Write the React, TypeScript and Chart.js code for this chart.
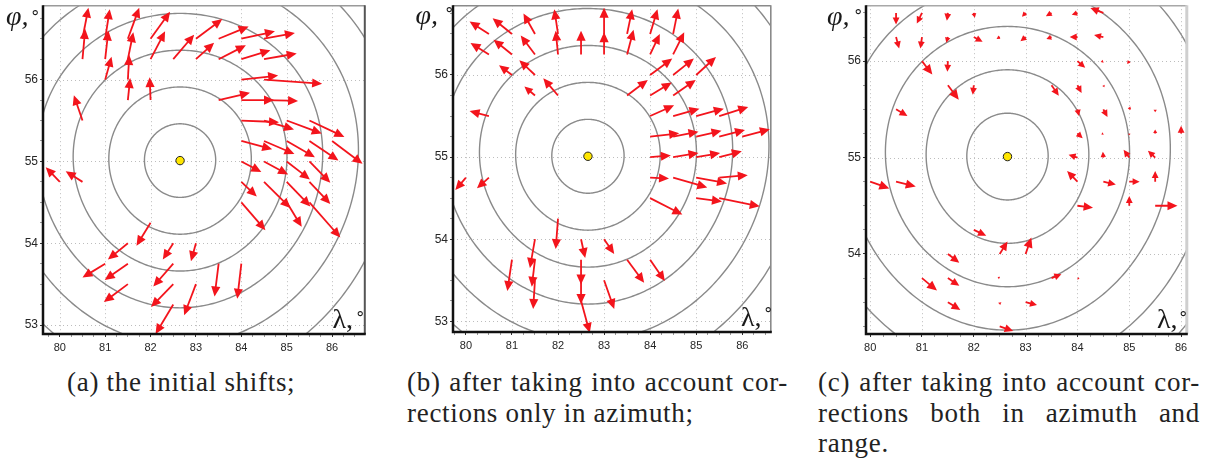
import React, { useEffect, useRef } from 'react';
import { Chart, registerables } from 'chart.js';

Chart.register(...registerables);

// ---------------- data ----------------
const RING_RADII = [0.45, 0.9, 1.35, 1.8, 2.25, 2.7]; // ring radius, degrees of latitude
const CENTER_LON = 82.65;
const CENTER_LAT = 55.01;
const LON_LABELS = [80, 81, 82, 83, 84, 85, 86];
const LAT_LABELS = [53, 54, 55, 56];
const MINOR_STEP = 0.25;

type Arrow = [number, number, number, number]; // lon, lat, dLon, dLat

const ARROWS_A: Arrow[] = [
  [80.5, 56.25, 0.06, 0.37], [80.5, 56.5, 0.13, 0.38],
  [81, 56.0, 0.14, 0.28], [81, 56.25, 0.07, 0.35], [81, 56.5, 0.1, 0.36],
  [81.5, 55.75, 0.05, 0.27], [81.5, 56.0, 0.03, 0.3], [81.5, 56.25, 0.12, 0.33], [81.5, 56.5, 0.25, 0.38],
  [82, 55.75, -0.02, 0.28], [82, 56.25, 0.32, 0.34], [82, 56.5, 0.43, 0.33],
  [82.5, 56.25, 0.46, 0.3],
  [83, 56.25, 0.4, 0.2], [83, 56.5, 0.58, 0.24],
  [83.5, 56.25, 0.6, 0.17], [83.5, 56.5, 0.66, 0.15], [83.5, 55.75, 0.69, 0.09],
  [84, 56.5, 0.74, 0.09], [84, 56.25, 0.64, 0.11], [84, 56.0, 0.81, 0.05], [84, 55.75, 0.72, 0.0],
  [84, 55.5, 0.83, -0.02], [84, 55.25, 0.68, -0.1], [84, 55.0, 0.44, -0.13], [84, 54.75, 0.34, -0.18],
  [84, 54.5, 0.53, -0.34],
  [84.5, 56.5, 0.68, 0.07], [84.5, 56.25, 0.72, 0.07], [84.5, 56.0, 1.28, -0.05], [84.5, 55.75, 0.75, -0.01],
  [84.5, 55.5, 0.66, -0.11], [84.5, 55.25, 0.67, -0.16], [84.5, 55.0, 0.53, -0.16], [84.5, 54.75, 0.58, -0.32],
  [85, 55.5, 0.77, -0.16], [85, 55.25, 0.62, -0.2], [85, 55.0, 0.51, -0.22], [85, 54.75, 0.52, -0.3],
  [85, 54.5, 0.33, -0.3],
  [85.5, 55.5, 0.77, -0.2], [85.5, 55.25, 0.64, -0.24], [85.5, 55.0, 0.46, -0.26], [85.5, 54.75, 0.46, -0.27],
  [85.5, 54.5, 0.68, -0.43],
  [86, 55.25, 0.67, -0.28],
  [82, 54.25, -0.31, -0.28], [81.5, 54.0, -0.44, -0.2], [81, 53.75, -0.5, -0.17],
  [81.5, 53.75, -0.51, -0.2], [81.5, 53.5, -0.53, -0.22],
  [82.5, 54.0, -0.23, -0.2], [83, 54.0, -0.11, -0.22],
  [82.5, 53.75, -0.44, -0.28], [82.5, 53.5, -0.49, -0.28], [83, 53.5, -0.26, -0.38],
  [83.5, 53.75, -0.09, -0.4], [84, 53.75, -0.09, -0.43], [82.5, 53.25, -0.39, -0.36],
  [80.5, 55.5, -0.19, 0.31], [80, 54.75, -0.31, 0.18], [80.5, 54.75, -0.37, 0.13],
];

const ARROWS_B: Arrow[] = [
  [80.5, 56.5, -0.42, 0.15], [81, 56.5, -0.42, 0.19], [81.5, 56.5, -0.25, 0.25],
  [80.5, 56.25, -0.4, 0.14], [81, 56.25, -0.4, 0.18], [81.5, 56.25, -0.31, 0.23],
  [81, 56.0, -0.28, 0.12], [81.5, 56.0, -0.34, 0.18],
  [81.5, 55.75, -0.23, 0.11], [82, 55.75, -0.32, 0.21],
  [80.5, 55.5, -0.42, 0.06],
  [80, 54.75, -0.23, -0.15], [80.5, 54.75, -0.26, -0.13],
  [82, 56.25, -0.05, 0.29], [82, 56.5, -0.08, 0.3],
  [82.5, 56.25, 0, 0.29],
  [83, 56.25, 0, 0.27], [83, 56.5, 0, 0.32],
  [83.5, 56.25, 0.14, 0.3], [83.5, 56.5, 0.11, 0.3],
  [84, 56.25, 0.21, 0.25], [84, 56.5, 0.16, 0.3],
  [84.5, 56.25, 0.24, 0.27], [84.5, 56.5, 0.11, 0.31],
  [83.5, 55.75, 0.45, 0.19],
  [84, 56.0, 0.48, 0.2], [84.5, 56.0, 0.45, 0.2], [85, 56.0, 0.43, 0.22],
  [84, 55.75, 0.47, 0.16], [84.5, 55.75, 0.49, 0.19],
  [84, 55.5, 0.52, 0.13], [84.5, 55.5, 0.57, 0.09], [85, 55.5, 0.6, 0.09], [85.5, 55.5, 0.63, 0.11],
  [84, 55.25, 0.63, 0.04], [84.5, 55.25, 0.55, 0.06], [85, 55.25, 0.55, 0.07], [85.5, 55.25, 0.56, 0.08],
  [86, 55.25, 0.6, 0.09],
  [84, 55.0, 0.45, 0.02], [84.5, 55.0, 0.55, 0.05], [85, 55.0, 0.52, 0.05], [85.5, 55.0, 0.49, 0.07],
  [84, 54.75, 0.41, -0.01], [84.5, 54.75, 0.74, -0.12], [85, 54.75, 0.67, -0.07], [85.5, 54.75, 0.62, 0.03],
  [84, 54.5, 0.7, -0.2], [85, 54.5, 0.56, -0.04], [85.5, 54.5, 0.88, -0.1],
  [82, 54.25, -0.05, -0.37],
  [81.5, 54.0, -0.11, -0.35], [81, 53.75, -0.1, -0.38], [81.5, 53.75, -0.07, -0.33], [81.5, 53.5, -0.04, -0.35],
  [82.5, 54.0, 0.09, -0.23], [83, 54.0, 0.22, -0.18],
  [82.5, 53.75, 0, -0.3], [82.5, 53.5, 0, -0.29], [82.5, 53.25, 0.19, -0.39],
  [83, 53.5, 0.22, -0.35], [83.5, 53.75, 0.37, -0.28], [84, 53.75, 0.32, -0.26],
];

const ARROWS_C: Arrow[] = [
  [80.5, 56.5, 0, -0.12], [81, 56.5, -0.1, -0.11], [81.5, 56.5, -0.02, -0.08], [82, 56.5, 0.02, -0.05],
  [83, 56.5, -0.07, -0.04], [83.5, 56.5, -0.11, -0.035], [84, 56.5, -0.11, -0.02], [84.5, 56.5, -0.25, 0.05],
  [80.5, 56.25, 0.06, -0.12], [81, 56.25, -0.03, -0.12], [81.5, 56.25, -0.03, -0.06], [82, 56.25, 0.17, -0.05],
  [82.5, 56.25, -0.06, -0.02], [83, 56.25, -0.1, -0.045], [83.5, 56.25, -0.1, -0.02], [84, 56.25, -0.15, 0.0],
  [84.5, 56.25, -0.18, 0.02],
  [81, 56.0, 0.2, -0.14], [81.5, 56.0, -0.01, -0.11], [84, 56.0, 0.15, -0.07], [84.5, 56.0, -0.05, -0.01],
  [85, 56.0, -0.04, -0.03],
  [81.5, 55.75, 0.21, -0.15], [82, 55.75, -0.02, -0.1], [83.5, 55.75, 0.14, -0.11], [84, 55.75, 0.08, -0.08],
  [84.5, 55.75, 0.02, -0.02],
  [80.5, 55.5, 0.22, -0.07], [84, 55.5, 0.03, -0.07], [84.5, 55.5, 0.08, -0.08], [85, 55.5, 0.02, 0.03],
  [85.5, 55.5, 0.0, -0.03],
  [84, 55.25, 0.1, -0.05], [84.5, 55.25, -0.04, -0.01], [85, 55.25, 0, -0.02], [85.5, 55.25, 0, 0.04],
  [86, 55.25, 0, 0.08],
  [84, 55.0, -0.17, 0.03], [84.5, 55.0, -0.01, 0.06], [85, 55.0, -0.11, 0.08], [85.5, 55.0, -0.14, 0.07],
  [84, 54.75, -0.2, 0.11], [84.5, 54.75, 0.24, -0.03], [85, 54.75, 0.2, 0], [85.5, 54.75, 0, 0.11],
  [84, 54.5, 0.3, -0.02], [85, 54.5, 0, 0.1], [85.5, 54.5, 0.43, 0],
  [80, 54.75, 0.37, -0.07], [80.5, 54.75, 0.38, -0.05],
  [82, 54.25, 0.24, -0.06],
  [82.5, 54.0, 0.15, 0.13], [83, 54.0, 0.11, 0.17], [81.5, 54.0, 0.22, -0.09],
  [81, 53.75, 0.29, -0.13], [81.5, 53.75, 0.22, -0.08], [82.5, 53.75, -0.04, 0.01], [83.5, 53.75, 0.19, 0.04],
  [84, 53.75, 0.04, -0.01],
  [81.5, 53.5, 0.24, -0.08], [82.5, 53.5, 0.01, -0.03], [83, 53.5, 0.22, -0.03],
  [82.5, 53.25, 0.26, -0.05],
];

const CAPTION_A = ['(a) the initial shifts;'];
const CAPTION_B = ['(b) after taking into account cor-', 'rections only in azimuth;'];
const CAPTION_C = ['(c) after taking into account cor-', 'rections both in azimuth and', 'range.'];

// ---------------- layout ----------------
type PanelCfg = {
  id: string;
  arrows: Arrow[];
  xr: [number, number];
  yr: [number, number];
  left: number;
  width: number;
  height: number;
  padTop: number;
  xFont: number;
  yFont: number;
  rightColor: string;
  rightWidth: number;
  topColor: string;
};

const PANELS: PanelCfg[] = [
  { id: 'a', arrows: ARROWS_A, xr: [79.63, 86.72], yr: [52.89, 56.91], left: 0, width: 370, height: 352, padTop: 4, xFont: 11, yFont: 12, rightColor: '#555', rightWidth: 2, topColor: '#9a9a9a' },
  { id: 'b', arrows: ARROWS_B, xr: [79.72, 86.62], yr: [52.87, 56.85], left: 410, width: 366, height: 350, padTop: 2, xFont: 11, yFont: 12, rightColor: '#8a8a8a', rightWidth: 1.6, topColor: '#8a8a8a' },
  { id: 'c', arrows: ARROWS_C, xr: [79.92, 86.11], yr: [53.17, 56.58], left: 823, width: 369, height: 352, padTop: 3, xFont: 11, yFont: 12, rightColor: '#cfcfcf', rightWidth: 3, topColor: '#a8a8a8' },
];

const isLabel = (v: number, labels: number[]) => labels.some((l) => Math.abs(l - v) < 1e-6);

function axisOptions(min: number, max: number, horizontal: boolean, fontSize: number) {
  const labels = horizontal ? LON_LABELS : LAT_LABELS;
  return {
    type: 'linear' as const,
    min,
    max,
    afterBuildTicks: (scale: any) => {
      const t: { value: number }[] = [];
      for (let k = Math.ceil(min / MINOR_STEP); k * MINOR_STEP <= max + 1e-9; k++) {
        t.push({ value: +(k * MINOR_STEP).toFixed(4) });
      }
      scale.ticks = t;
    },
    afterFit: (scale: any) => {
      if (horizontal) scale.height = 18;
      else scale.width = 43;
      scale.paddingTop = 0;
      scale.paddingBottom = 0;
      scale.paddingLeft = 0;
      scale.paddingRight = 0;
    },
    grid: {
      display: true,
      drawOnChartArea: false,
      drawTicks: true,
      tickLength: 3,
      tickWidth: 1,
      tickColor: (c: any) => (c.tick && isLabel(c.tick.value, labels) ? '#333' : '#9a9a9a'),
    },
    border: { display: false },
    ticks: {
      autoSkip: false,
      maxRotation: 0,
      minRotation: 0,
      padding: horizontal ? 4 : 2,
      color: '#262626',
      font: { family: "'Liberation Sans', Arial, sans-serif", size: fontSize },
      callback: (v: any) => (isLabel(Number(v), labels) ? String(Math.round(Number(v))) : ''),
    },
  };
}

function makeDecor(cfg: PanelCfg) {
  return {
    id: 'decor-' + cfg.id,
    beforeDatasetsDraw(chart: any) {
      const { ctx, chartArea: a } = chart;
      const xs = chart.scales.x;
      const ys = chart.scales.y;
      ctx.save();
      ctx.beginPath();
      ctx.rect(a.left, a.top, a.right - a.left, a.bottom - a.top);
      ctx.clip();
      // dotted grid at labelled values
      ctx.strokeStyle = '#bdbdbd';
      ctx.lineWidth = 1;
      ctx.setLineDash([1, 3]);
      for (const v of LON_LABELS) {
        const p = Math.round(xs.getPixelForValue(v)) + 0.5;
        ctx.beginPath();
        ctx.moveTo(p, a.top);
        ctx.lineTo(p, a.bottom);
        ctx.stroke();
      }
      for (const v of LAT_LABELS) {
        const p = Math.round(ys.getPixelForValue(v)) + 0.5;
        ctx.beginPath();
        ctx.moveTo(a.left, p);
        ctx.lineTo(a.right, p);
        ctx.stroke();
      }
      ctx.setLineDash([]);
      // range rings around the radar
      ctx.strokeStyle = '#8a8a8a';
      ctx.lineWidth = 1.4;
      for (const r of RING_RADII) {
        ctx.beginPath();
        for (let i = 0; i <= 360; i++) {
          const t = (i * Math.PI) / 180;
          const lat = CENTER_LAT + r * Math.sin(t);
          const lon = CENTER_LON + (r * Math.cos(t)) / Math.cos((lat * Math.PI) / 180);
          const px = xs.getPixelForValue(lon);
          const py = ys.getPixelForValue(lat);
          if (i === 0) ctx.moveTo(px, py);
          else ctx.lineTo(px, py);
        }
        ctx.stroke();
      }
      ctx.restore();
    },
    afterDatasetsDraw(chart: any) {
      const { ctx, chartArea: a } = chart;
      const xs = chart.scales.x;
      const ys = chart.scales.y;
      ctx.save();
      ctx.beginPath();
      ctx.rect(a.left, a.top, a.right - a.left, a.bottom - a.top);
      ctx.clip();
      ctx.strokeStyle = '#f3141c';
      ctx.fillStyle = '#f3141c';
      ctx.lineWidth = 1.8;
      ctx.lineCap = 'butt';
      for (const [lon, lat, dl, dp] of cfg.arrows) {
        const x0 = xs.getPixelForValue(lon);
        const y0 = ys.getPixelForValue(lat);
        const x1 = xs.getPixelForValue(lon + dl);
        const y1 = ys.getPixelForValue(lat + dp);
        const dx = x1 - x0;
        const dy = y1 - y0;
        const len = Math.hypot(dx, dy);
        if (len < 0.5) continue;
        const ux = dx / len;
        const uy = dy / len;
        const h = Math.min(10, Math.max(len * 0.6, Math.min(len * 0.9, 7)));
        const w = h * 0.4 + 0.6;
        const bx = x1 - ux * h;
        const by = y1 - uy * h;
        if (len - h > 0.3) {
          ctx.beginPath();
          ctx.moveTo(x0, y0);
          ctx.lineTo(bx + ux, by + uy);
          ctx.stroke();
        }
        ctx.beginPath();
        ctx.moveTo(x1, y1);
        ctx.lineTo(bx - uy * w, by + ux * w);
        ctx.lineTo(bx + uy * w, by - ux * w);
        ctx.closePath();
        ctx.fill();
      }
      ctx.restore();
    },
    afterDraw(chart: any) {
      const { ctx, chartArea: a } = chart;
      ctx.save();
      ctx.lineCap = 'butt';
      ctx.strokeStyle = cfg.topColor;
      ctx.lineWidth = 1.5;
      ctx.beginPath();
      ctx.moveTo(a.left, a.top + 0.5);
      ctx.lineTo(a.right, a.top + 0.5);
      ctx.stroke();
      ctx.strokeStyle = cfg.rightColor;
      ctx.lineWidth = cfg.rightWidth;
      ctx.beginPath();
      ctx.moveTo(a.right, a.top);
      ctx.lineTo(a.right, a.bottom);
      ctx.stroke();
      ctx.strokeStyle = '#111';
      ctx.lineWidth = 2.5;
      ctx.beginPath();
      ctx.moveTo(a.left, a.top);
      ctx.lineTo(a.left, a.bottom);
      ctx.lineTo(a.right + 1, a.bottom);
      ctx.stroke();
      ctx.restore();
    },
  };
}

function Panel({ cfg }: { cfg: PanelCfg }) {
  const ref = useRef<HTMLCanvasElement | null>(null);
  useEffect(() => {
    const canvas = ref.current;
    if (!canvas) return;
    const chart = new Chart(canvas, {
      type: 'scatter',
      data: {
        datasets: [
          {
            data: [{ x: CENTER_LON, y: CENTER_LAT }],
            pointRadius: 4.2,
            pointHoverRadius: 4.2,
            pointBackgroundColor: '#ffe600',
            pointBorderColor: '#222',
            pointBorderWidth: 1,
          },
        ],
      },
      options: {
        responsive: false,
        animation: false,
        events: [],
        layout: { padding: { top: cfg.padTop, right: 3, left: 0, bottom: 0 } },
        plugins: { legend: { display: false }, tooltip: { enabled: false } },
        scales: {
          x: axisOptions(cfg.xr[0], cfg.xr[1], true, cfg.xFont) as any,
          y: axisOptions(cfg.yr[0], cfg.yr[1], false, cfg.yFont) as any,
        },
      },
      plugins: [makeDecor(cfg) as any],
    });
    return () => chart.destroy();
  }, [cfg]);
  return (
    <canvas
      ref={ref}
      width={cfg.width}
      height={cfg.height}
      style={{ position: 'absolute', left: cfg.left, top: 0, width: cfg.width, height: cfg.height }}
    />
  );
}

const symStyle: React.CSSProperties = {
  position: 'absolute',
  fontFamily: "'Liberation Serif', 'Times New Roman', serif",
  fontSize: 28,
  lineHeight: '28px',
  color: '#1a1a1a',
  whiteSpace: 'nowrap',
};
const degStyle: React.CSSProperties = {
  position: 'absolute',
  fontFamily: "'DejaVu Sans', sans-serif",
  fontSize: 17,
  lineHeight: '17px',
  color: '#1a1a1a',
};

function AxisSym({ text, italic, x, y, dx, dy }: { text: string; italic: boolean; x: number; y: number; dx: number; dy: number }) {
  return (
    <>
      <span style={{ ...symStyle, left: x, top: y, fontStyle: italic ? 'italic' : 'normal' }}>{text}</span>
      <span style={{ ...degStyle, left: dx, top: dy }}>°</span>
    </>
  );
}

const capStyle: React.CSSProperties = {
  position: 'absolute',
  top: 367,
  fontFamily: "'Liberation Serif', 'Times New Roman', serif",
  fontSize: 27,
  letterSpacing: 0.7,
  lineHeight: '30.5px',
  color: '#222',
};

function Caption({ lines, left, width, justifyCount }: { lines: string[]; left: number; width: number; justifyCount: number }) {
  return (
    <div style={{ ...capStyle, left, width }}>
      {lines.map((l, i) => (
        <div
          key={i}
          style={i < justifyCount ? { textAlign: 'justify', textAlignLast: 'justify' } : { textAlign: 'left', whiteSpace: 'nowrap' }}
        >
          {l}
        </div>
      ))}
    </div>
  );
}

export default function App() {
  return (
    <div style={{ position: 'absolute', left: 0, top: 0, width: 1215, height: 462, background: '#fff', overflow: 'hidden' }}>
      {PANELS.map((p) => (
        <Panel key={p.id} cfg={p} />
      ))}
      <AxisSym text="φ," italic x={6} y={2} dx={31} dy={9} />
      <AxisSym text="λ," italic={false} x={332.5} y={304.5} dx={356} dy={310} />
      <AxisSym text="φ," italic x={415.5} y={0.5} dx={445} dy={6} />
      <AxisSym text="λ," italic={false} x={741} y={302.5} dx={764} dy={306} />
      <AxisSym text="φ," italic x={827} y={2} dx={854} dy={8} />
      <AxisSym text="λ," italic={false} x={1157} y={305} dx={1179} dy={310} />
      <Caption lines={CAPTION_A} left={67} width={260} justifyCount={0} />
      <Caption lines={CAPTION_B} left={407} width={381} justifyCount={1} />
      <Caption lines={CAPTION_C} left={818} width={382} justifyCount={2} />
    </div>
  );
}
